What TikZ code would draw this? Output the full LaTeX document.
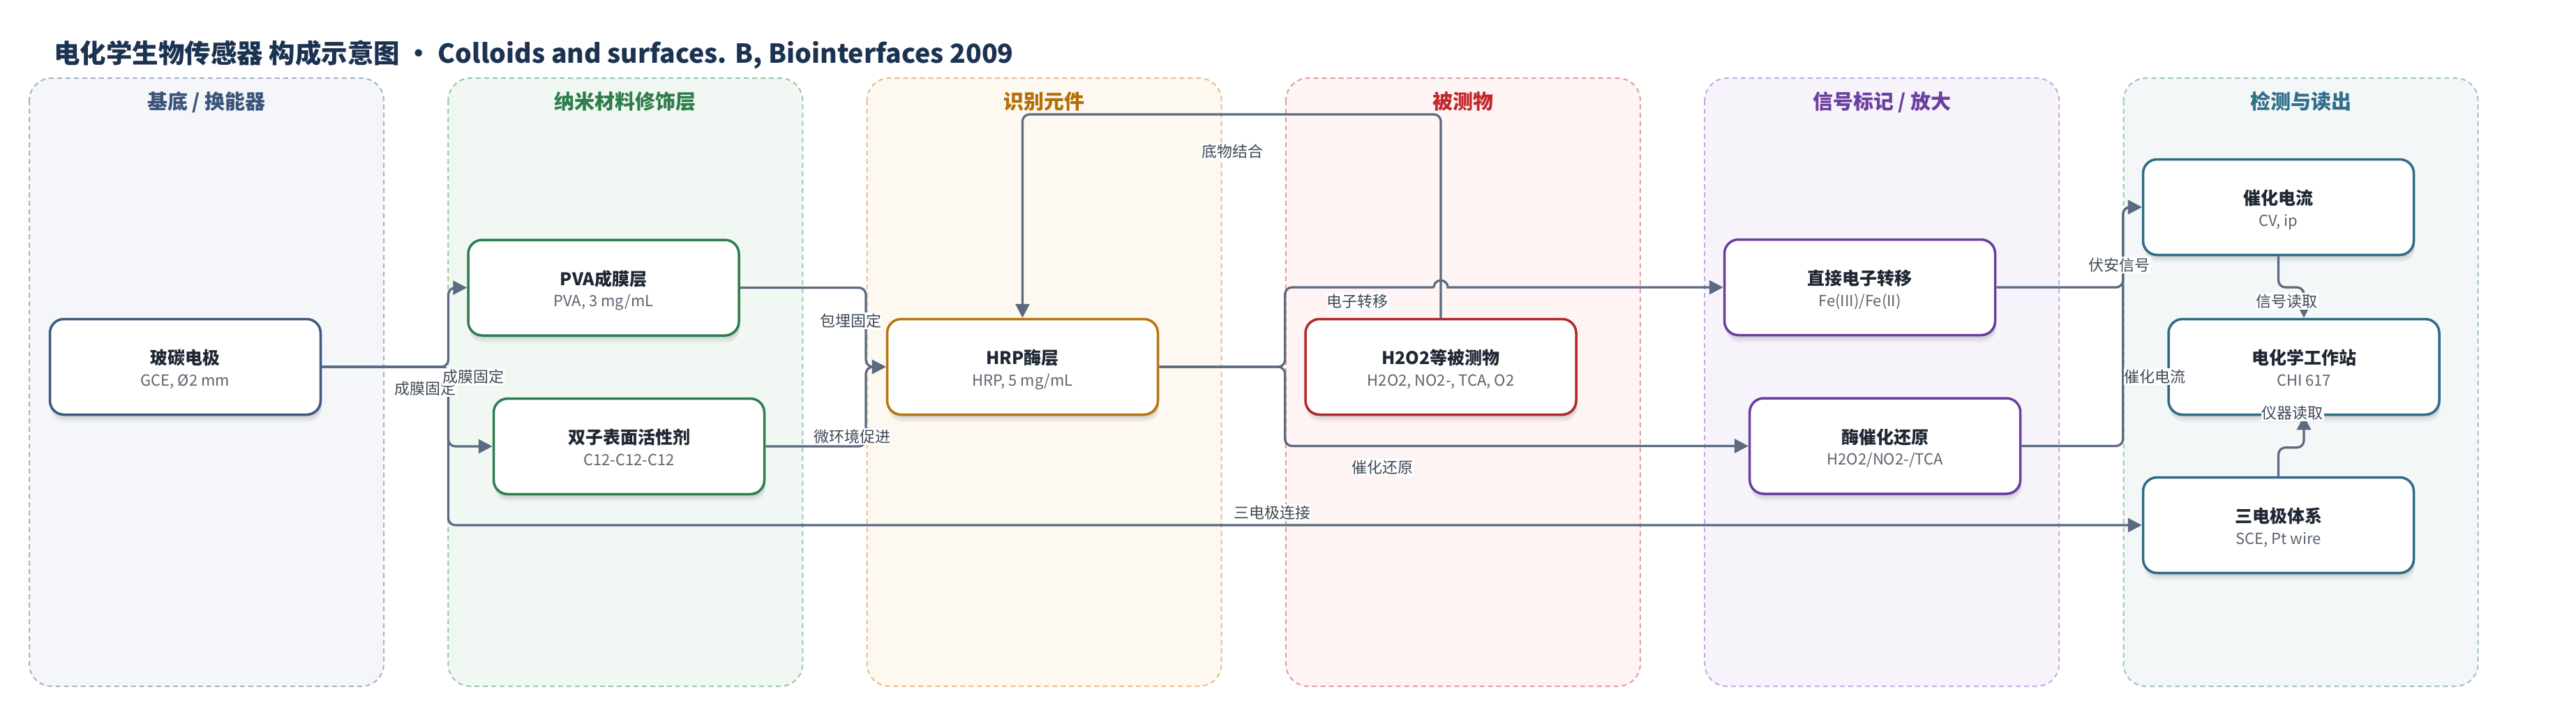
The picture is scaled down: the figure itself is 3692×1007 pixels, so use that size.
\documentclass[tikz,border=0pt]{standalone}
\usepackage{fontspec}
\setmainfont{Noto Sans CJK SC}
\usetikzlibrary{arrows.meta,shadows,calc}
\definecolor{titlec}{HTML}{1B3351}
\definecolor{laf}{HTML}{F4F6FA}\definecolor{lad}{HTML}{A7B3C7}\definecolor{lah}{HTML}{3B5479}\definecolor{nab}{HTML}{3E5A80}
\definecolor{lbf}{HTML}{F1F8F3}\definecolor{lbd}{HTML}{98C8A6}\definecolor{lbh}{HTML}{2E7D4B}\definecolor{nbb}{HTML}{2E7D4F}
\definecolor{lcf}{HTML}{FDF8F0}\definecolor{lcd}{HTML}{E9BF84}\definecolor{lch}{HTML}{B46F05}\definecolor{ncb}{HTML}{B8740F}
\definecolor{ldf}{HTML}{FDF4F3}\definecolor{ldd}{HTML}{E79D9D}\definecolor{ldh}{HTML}{C3272B}\definecolor{ndb}{HTML}{B3262A}
\definecolor{lef}{HTML}{F7F3FB}\definecolor{led}{HTML}{C8A9E2}\definecolor{leh}{HTML}{6C3FA0}\definecolor{neb}{HTML}{6A3D9E}
\definecolor{lff}{HTML}{F3F7F8}\definecolor{lfd}{HTML}{9EC0CD}\definecolor{lfh}{HTML}{2F6F8B}\definecolor{nfb}{HTML}{2F6B87}
\definecolor{edgec}{HTML}{5A6A80}
\definecolor{ntc}{HTML}{1E2733}
\definecolor{nsc}{HTML}{5C6470}
\definecolor{lblc}{HTML}{3E4956}
\tikzset{
  lane/.style={rounded corners=32pt, line width=2pt, dash pattern=on 7pt off 5pt},
  lanehead/.style={font=\bfseries\fontsize{29}{34}\selectfont, inner sep=0pt, text height=25.5pt, text depth=3.5pt},
  pbox/.style={rectangle, rounded corners=20pt, minimum width=388pt, minimum height=137pt,
     fill=white, line width=3.5pt,
     drop shadow={shadow xshift=1.5pt, shadow yshift=-4pt, opacity=0.07, fill=black},
     drop shadow={shadow xshift=1.5pt, shadow yshift=-8pt, opacity=0.05, fill=black},
     drop shadow={shadow xshift=1.5pt, shadow yshift=-11pt, opacity=0.03, fill=black}},
  ptitle/.style={font=\bfseries\fontsize{25}{30}\selectfont, text=ntc, inner sep=0pt, text height=22pt, text depth=3pt},
  psub/.style={font=\fontsize{22}{26}\selectfont, text=nsc, inner sep=0pt, text height=17.6pt, text depth=4.4pt},
  connl/.style={draw=edgec, line width=3.2pt, rounded corners=10pt},
  conn/.style={connl, -{Triangle[length=20pt,width=20pt]}},
  elabel/.style={fill=white, inner sep=1pt, font=\fontsize{22}{26}\selectfont, text=lblc, text height=19.4pt, text depth=2.6pt}
}
\newcommand\mknode[6]{%
  \node[pbox, draw=#4] (#1) at (#2,#3) {};
  \node[ptitle] (#1-t) at ([yshift=13pt]#1.center) {#5};
  \node[psub] (#1-s) at ([yshift=-20.5pt]#1.center) {#6};
}
\begin{document}
\begin{tikzpicture}[x=1pt,y=-1pt]
\useasboundingbox (0,0) rectangle (3692,1007);
\fill[white] (0,0) rectangle (3692,1007);

% title
\node[anchor=west, text=titlec, font=\bfseries\fontsize{37.5}{45}\selectfont, inner sep=0pt, text height=33pt, text depth=4.5pt] (title) at (77,76.2)
  {电化学生物传感器 构成示意图 • Colloids and surfaces. B, Biointerfaces 2009};

% lanes
\draw[lane, draw=lad, fill=laf] (42,112) rectangle (550,984);
\draw[lane, draw=lbd, fill=lbf] (642.3,112) rectangle (1150.3,984);
\draw[lane, draw=lcd, fill=lcf] (1242.6,112) rectangle (1750.6,984);
\draw[lane, draw=ldd, fill=ldf] (1842.9,112) rectangle (2350.9,984);
\draw[lane, draw=led, fill=lef] (2443.2,112) rectangle (2951.2,984);
\draw[lane, draw=lfd, fill=lff] (3043.5,112) rectangle (3551.5,984);
\node[lanehead, text=lah] (h1) at (296,145.8) {基底 / 换能器};
\node[lanehead, text=lbh] (h2) at (896.3,145.8) {纳米材料修饰层};
\node[lanehead, text=lch] (h3) at (1496.6,145.8) {识别元件};
\node[lanehead, text=ldh] (h4) at (2096.9,145.8) {被测物};
\node[lanehead, text=leh] (h5) at (2697.2,145.8) {信号标记 / 放大};
\node[lanehead, text=lfh] (h6) at (3297.5,145.8) {检测与读出};

% nodes
\mknode{gce}{265.5}{526}{nab}{玻碳电极}{GCE, Ø2 mm}
\mknode{pva}{865}{412.5}{nbb}{PVA成膜层}{PVA, 3 mg/mL}
\mknode{gem}{901.5}{640}{nbb}{双子表面活性剂}{C12-C12-C12}
\mknode{hrp}{1465.5}{526}{ncb}{HRP酶层}{HRP, 5 mg/mL}
\mknode{h2o2}{2065}{526}{ndb}{H2O2等被测物}{H2O2, NO2-, TCA, O2}
\mknode{det}{2665.5}{412}{neb}{直接电子转移}{Fe(III)/Fe(II)}
\mknode{enz}{2701.7}{639.5}{neb}{酶催化还原}{H2O2/NO2-/TCA}
\mknode{cur}{3265.5}{297}{nfb}{催化电流}{CV, ip}
\mknode{ws}{3302}{526}{nfb}{电化学工作站}{CHI 617}
\mknode{tri}{3265.5}{753}{nfb}{三电极体系}{SCE, Pt wire}

% connectors
\coordinate (jG) at (642.5,526);
\draw[conn] (gce.east) -- (jG) |- (pva.west);
\draw[conn] (gce.east) -- (jG) |- (gem.west);
\draw[conn] (gce.east) -- (jG) |- (tri.west);
\coordinate (jP) at (1241,526);
\draw[conn] (pva.east) -| (jP) -- (hrp.west);
\draw[conn] (gem.east) -| (jP) -- (hrp.west);
\coordinate (jH) at (1841.7,526);
\coordinate (hopL) at ($(h2o2.north |- det.west)+(-10,0)$);
\draw[connl] (hrp.east) -- (jH) |- (hopL);
\draw[conn, sharp corners] (hopL) arc[start angle=180, end angle=0, radius=10pt] -- (det.west);
\draw[conn] (hrp.east) -- (jH) |- (enz.west);
\coordinate (topY) at (0,164);
\draw[conn] (h2o2.north) -- (h2o2.north |- topY) -| (hrp.north);
\coordinate (jDx) at (3042.7,0);
\draw[conn] (det.east) -- (det.east -| jDx) |- (cur.west);
\draw[conn] (enz.east) -- (enz.east -| jDx) |- (cur.west);
\coordinate (rYa) at (0,412);
\coordinate (rYb) at (0,641.7);
\draw[conn] (cur.south) -- (cur.south |- rYa) -| (ws.north);
\draw[conn] (tri.north) -- (tri.north |- rYb) -| (ws.south);

% connector labels
\node[elabel] (la) at (609.7,556.7) {成膜固定};
\node[elabel] (lb) at (678.3,540) {成膜固定};
\node[elabel] (lc) at (1219,460) {包埋固定};
\node[elabel] (ld) at (1221,626) {微环境促进};
\node[elabel] (le) at (1766.7,216.7) {底物结合};
\node[elabel] (lf) at (1945.8,431.7) {电子转移};
\node[elabel] (lg) at (1981.7,670) {催化还原};
\node[elabel] (lh) at (1823,735) {三电极连接};
\node[elabel] (li) at (3037.8,379.8) {伏安信号};
\node[elabel] (lj) at (3088.5,540) {催化电流};
\node[elabel] (lk) at (3277.5,431.7) {信号读取};
\node[elabel] (ll) at (3285.8,592.3) {仪器读取};
\end{tikzpicture}
\end{document}
